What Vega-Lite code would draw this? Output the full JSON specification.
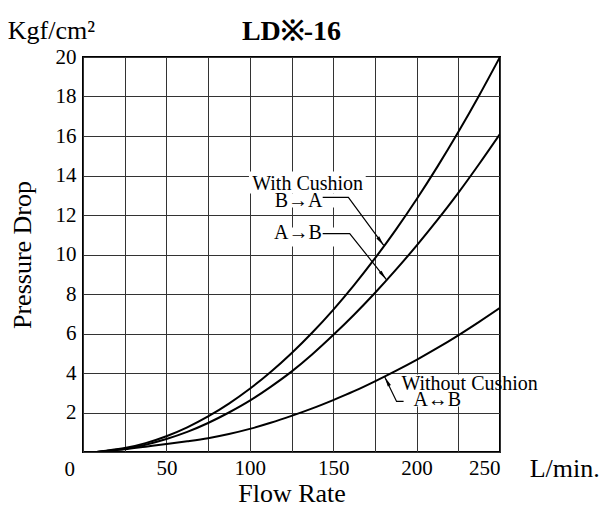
{
  "$schema": "https://vega.github.io/schema/vega-lite/v6.json",
  "width": 417,
  "height": 395,
  "autosize": {"type": "none"},
  "padding": {"left": 83, "top": 57, "right": 102, "bottom": 64},
  "background": "white",
  "config": {
    "font": "Liberation Serif",
    "view": {"stroke": "black", "strokeWidth": 2},
    "axis": {
      "grid": true,
      "gridColor": "#333333",
      "gridWidth": 1,
      "gridOpacity": 1,
      "ticks": false,
      "domain": false,
      "labelColor": "black",
      "titleColor": "black",
      "labelFont": "Liberation Serif",
      "titleFont": "Liberation Serif",
      "titleFontWeight": "normal",
      "labelFontSize": 21,
      "titleFontSize": 26
    }
  },
  "title": {
    "text": "LD※-16",
    "font": "Liberation Serif",
    "fontSize": 28,
    "fontWeight": "bold",
    "color": "black",
    "anchor": "middle",
    "baseline": "alphabetic",
    "offset": -22,
    "dy": 28
  },
  "datasets": {
    "curves": [
      {"series": "B→A", "x": 8, "y": 0}, {"series": "B→A", "x": 12.5, "y": 0.05}, {"series": "B→A", "x": 25, "y": 0.2}, {"series": "B→A", "x": 37.5, "y": 0.45}, {"series": "B→A", "x": 50, "y": 0.8}, {"series": "B→A", "x": 62.5, "y": 1.25}, {"series": "B→A", "x": 75, "y": 1.8}, {"series": "B→A", "x": 87.5, "y": 2.45}, {"series": "B→A", "x": 100, "y": 3.2}, {"series": "B→A", "x": 112.5, "y": 4.05}, {"series": "B→A", "x": 125, "y": 5.0}, {"series": "B→A", "x": 137.5, "y": 6.05}, {"series": "B→A", "x": 150, "y": 7.2}, {"series": "B→A", "x": 162.5, "y": 8.45}, {"series": "B→A", "x": 175, "y": 9.8}, {"series": "B→A", "x": 187.5, "y": 11.25}, {"series": "B→A", "x": 200, "y": 12.8}, {"series": "B→A", "x": 212.5, "y": 14.45}, {"series": "B→A", "x": 225, "y": 16.2}, {"series": "B→A", "x": 237.5, "y": 18.05}, {"series": "B→A", "x": 250, "y": 20},
      {"series": "A→B", "x": 8, "y": 0}, {"series": "A→B", "x": 12.5, "y": 0.04}, {"series": "A→B", "x": 25, "y": 0.16}, {"series": "A→B", "x": 37.5, "y": 0.37}, {"series": "A→B", "x": 50, "y": 0.66}, {"series": "A→B", "x": 62.5, "y": 1.02}, {"series": "A→B", "x": 75, "y": 1.47}, {"series": "A→B", "x": 87.5, "y": 2.0}, {"series": "A→B", "x": 100, "y": 2.6}, {"series": "A→B", "x": 112.5, "y": 3.3}, {"series": "A→B", "x": 125, "y": 4.07}, {"series": "A→B", "x": 137.5, "y": 4.95}, {"series": "A→B", "x": 150, "y": 5.92}, {"series": "A→B", "x": 162.5, "y": 6.95}, {"series": "A→B", "x": 175, "y": 8.05}, {"series": "A→B", "x": 187.5, "y": 9.22}, {"series": "A→B", "x": 200, "y": 10.45}, {"series": "A→B", "x": 212.5, "y": 11.75}, {"series": "A→B", "x": 225, "y": 13.12}, {"series": "A→B", "x": 237.5, "y": 14.58}, {"series": "A→B", "x": 250, "y": 16.1},
      {"series": "Without", "x": 8, "y": 0}, {"series": "Without", "x": 12.5, "y": 0.04}, {"series": "Without", "x": 25, "y": 0.14}, {"series": "Without", "x": 37.5, "y": 0.27}, {"series": "Without", "x": 50, "y": 0.4}, {"series": "Without", "x": 62.5, "y": 0.54}, {"series": "Without", "x": 75, "y": 0.7}, {"series": "Without", "x": 87.5, "y": 0.91}, {"series": "Without", "x": 100, "y": 1.17}, {"series": "Without", "x": 112.5, "y": 1.48}, {"series": "Without", "x": 125, "y": 1.83}, {"series": "Without", "x": 137.5, "y": 2.21}, {"series": "Without", "x": 150, "y": 2.63}, {"series": "Without", "x": 162.5, "y": 3.08}, {"series": "Without", "x": 175, "y": 3.58}, {"series": "Without", "x": 187.5, "y": 4.11}, {"series": "Without", "x": 200, "y": 4.67}, {"series": "Without", "x": 212.5, "y": 5.27}, {"series": "Without", "x": 225, "y": 5.91}, {"series": "Without", "x": 237.5, "y": 6.59}, {"series": "Without", "x": 250, "y": 7.3}
    ],
    "masks": [
      {"x": 99.5, "x2": 169.5, "y": 13.09, "y2": 14.2},
      {"x": 114.3, "x2": 153.9, "y": 12.38, "y2": 13.09},
      {"x": 113.8, "x2": 153.9, "y": 10.4, "y2": 11.37},
      {"x": 188.6, "x2": 249, "y": 2.3, "y2": 3.92}
    ],
    "leaders": [
      {"leader": "BA", "step": 1, "x": 143.7, "y": 12.89}, {"leader": "BA", "step": 2, "x": 159.1, "y": 12.89}, {"leader": "BA", "step": 3, "x": 180.3, "y": 10.46},
      {"leader": "AB", "step": 1, "x": 143.7, "y": 11.06}, {"leader": "AB", "step": 2, "x": 159.9, "y": 11.06}, {"leader": "AB", "step": 3, "x": 181.9, "y": 8.73},
      {"leader": "WO", "step": 1, "x": 192.2, "y": 2.56}, {"leader": "WO", "step": 2, "x": 188.0, "y": 2.56}, {"leader": "WO", "step": 3, "x": 180.9, "y": 3.8}
    ],
    "notes": [
      {"kind": "note", "text": "With Cushion", "x": 134.7, "y": 13.29},
      {"kind": "note", "text": "B→A", "x": 129.3, "y": 12.4},
      {"kind": "note", "text": "A→B", "x": 128.9, "y": 10.76},
      {"kind": "note", "text": "Without Cushion", "x": 231.8, "y": 3.13},
      {"kind": "note", "text": "A↔B", "x": 212.4, "y": 2.32},
      {"kind": "unit", "text": "Kgf/cm²", "x": -45.1, "y": 20.92},
      {"kind": "unit", "text": "L/min.", "x": 267.8, "y": -1.29},
      {"kind": "origin", "text": "0", "x": -8, "y": -1.19}
    ]
  },
  "encoding": {
    "x": {
      "field": "x",
      "type": "quantitative",
      "scale": {"domain": [0, 250], "nice": false},
      "axis": {
        "title": "Flow Rate",
        "values": [0, 25, 50, 75, 100, 125, 150, 175, 200, 225, 250],
        "labelExpr": "datum.value > 0 && datum.value % 50 === 0 ? datum.label : ''",
        "labelPadding": 5,
        "titlePadding": 2
      }
    },
    "y": {
      "field": "y",
      "type": "quantitative",
      "scale": {"domain": [0, 20], "nice": false},
      "axis": {
        "title": "Pressure Drop",
        "values": [0, 2, 4, 6, 8, 10, 12, 14, 16, 18, 20],
        "labelExpr": "datum.value === 0 ? '' : datum.label",
        "labelPadding": 7,
        "titlePadding": 20
      }
    }
  },
  "layer": [
    {
      "data": {"name": "masks"},
      "mark": {"type": "rect", "fill": "white", "strokeWidth": 0},
      "encoding": {"x2": {"field": "x2"}, "y2": {"field": "y2"}}
    },
    {
      "data": {"name": "curves"},
      "mark": {"type": "line", "color": "black", "strokeWidth": 2, "interpolate": "monotone", "clip": true},
      "encoding": {"detail": {"field": "series"}}
    },
    {
      "data": {"name": "leaders"},
      "mark": {"type": "line", "color": "black", "strokeWidth": 1.2},
      "encoding": {"detail": {"field": "leader"}, "order": {"field": "step"}}
    },
    {
      "data": {"name": "leaders"},
      "transform": [{"filter": "datum.step === 3 && datum.leader === 'BA'"}],
      "mark": {"type": "point", "shape": "M0,0L-0.35,-2L0.35,-2Z", "size": 100, "filled": true, "color": "black", "opacity": 1, "angle": -36.4}
    },
    {
      "data": {"name": "leaders"},
      "transform": [{"filter": "datum.step === 3 && datum.leader === 'AB'"}],
      "mark": {"type": "point", "shape": "M0,0L-0.35,-2L0.35,-2Z", "size": 100, "filled": true, "color": "black", "opacity": 1, "angle": -38.6}
    },
    {
      "data": {"name": "leaders"},
      "transform": [{"filter": "datum.step === 3 && datum.leader === 'WO'"}],
      "mark": {"type": "point", "shape": "M0,0L-0.35,-2L0.35,-2Z", "size": 100, "filled": true, "color": "black", "opacity": 1, "angle": 152.4}
    },
    {
      "data": {"name": "notes"},
      "transform": [{"filter": "datum.kind === 'note'"}],
      "mark": {"type": "text", "font": "Liberation Serif", "fontSize": 20, "color": "black", "align": "center", "baseline": "alphabetic"},
      "encoding": {"text": {"field": "text"}}
    },
    {
      "data": {"name": "notes"},
      "transform": [{"filter": "datum.kind === 'unit'"}],
      "mark": {"type": "text", "font": "Liberation Serif", "fontSize": 26, "color": "black", "align": "left", "baseline": "alphabetic"},
      "encoding": {"text": {"field": "text"}}
    },
    {
      "data": {"name": "notes"},
      "transform": [{"filter": "datum.kind === 'origin'"}],
      "mark": {"type": "text", "font": "Liberation Serif", "fontSize": 21, "color": "black", "align": "center", "baseline": "alphabetic"},
      "encoding": {"text": {"field": "text"}}
    }
  ]
}
